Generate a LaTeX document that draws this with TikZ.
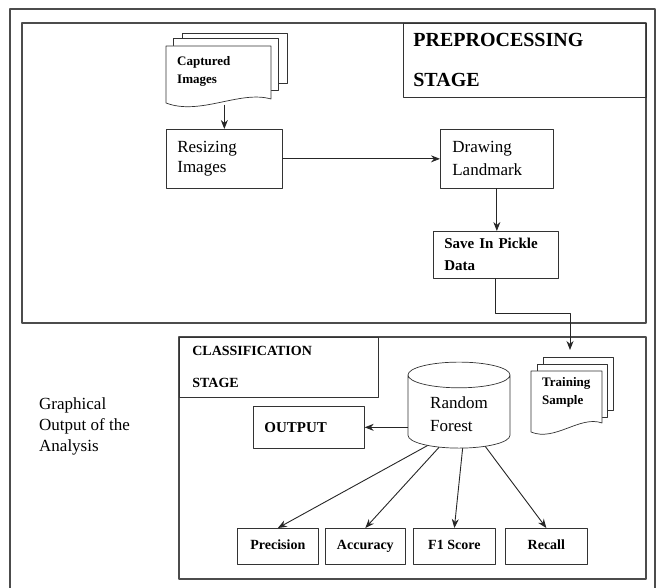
\documentclass[tikz,border=0pt]{standalone}
\usepackage{fontspec}
\setmainfont{Liberation Serif}
\usetikzlibrary{shapes.geometric, arrows.meta}

\tikzset{
	frame/.style={draw=black!70, line width=1.1pt},
	box/.style={draw=black!80, line width=0.7pt, anchor=north west, inner xsep=11pt, inner ysep=0pt, align=left},
	stagebox/.style={box, font=\bfseries},
	metric/.style={draw=black!80, line width=0.7pt, anchor=north west, inner sep=0pt, minimum height=36pt, text height=10pt, text depth=3pt, font=\bfseries\fontsize{14}{16}\selectfont},
	page/.style={draw=black!80, line width=0.7pt, fill=white},
	doctext/.style={anchor=north west, inner xsep=11pt, inner ysep=0pt, align=left, font=\bfseries\fontsize{13}{18}\selectfont},
	link/.style={->, line width=0.9pt, black!85}
}

\begin{document}
\begin{tikzpicture}[x=1pt, y=-1pt, >={Stealth[length=9pt, width=7pt]}, line join=round, line cap=round]
	\useasboundingbox (0,0) rectangle (659,588);
	% outer frame and stage frames
	\draw[frame] (10,588) -- (10,9) -- (655,9) -- (655,588);
	\draw[frame] (22,23) rectangle (646,323);
	\draw[frame] (179,337) rectangle (646,579);

	% preprocessing stage
	\node[stagebox, inner xsep=10pt, text width=223pt, minimum height=74pt, font=\bfseries\fontsize{20}{40}\selectfont] (pre) at (403,23) {PREPROCESSING\\STAGE};

	\draw[page] (182,33) rectangle (287,83);
	\draw[page] (173,38) rectangle (278,90);
	\draw[page] (166,46) -- (271,46) -- (271,99) .. controls (240,90) and (200,116) .. (166,103) -- cycle;
	\node[doctext, text width=83pt, minimum height=50pt] (capt) at (166,46) {Captured\\Images};

	\node[box, text width=94pt, minimum height=59pt, font=\fontsize{17}{20}\selectfont] (resize) at (166,129) {Resizing\\Images};
	\node[box, inner xsep=12pt, text width=89pt, minimum height=59pt, font=\fontsize{17}{23}\selectfont] (landmark) at (440,129) {Drawing\\Landmark};
	\node[box, text width=103pt, minimum height=47pt, font=\bfseries\fontsize{15}{22}\selectfont] (save) at (433,231) {Save In Pickle\\Data};
	\coordinate (tin) at (570,350);

	\draw[link, shorten <=9pt] (capt.south -| resize.north) -- (resize.north);
	\draw[link] (resize.east) -- (landmark.west);
	\draw[link] (landmark.south) -- (landmark.south |- save.north);
	\draw[link] (save.south) -- (save.south |- 0,313) -| (tin);

	% classification stage
	\node[stagebox, inner xsep=13pt, text width=173pt, minimum height=60pt, font=\bfseries\fontsize{14}{32}\selectfont] (cls) at (179,337) {CLASSIFICATION\\STAGE};

	\draw[page] (543,357) rectangle (613,410);
	\draw[page] (537,364) rectangle (607,417);
	\draw[page] (531,371) -- (602,371) -- (602,423) .. controls (580,415) and (555,442) .. (531,432) -- cycle;
	\node[doctext, text width=49pt, minimum height=42pt] (train) at (531,371) {Training\\Sample};

	\node[cylinder, shape border rotate=90, aspect=0.4, draw=black!80, line width=0.7pt, minimum width=102pt, minimum height=86pt, align=left, font=\fontsize{17}{23}\selectfont] (rf) at (459,414) {Random\\Forest};
	\node[box, text width=89pt, minimum height=42pt, font=\bfseries\fontsize{15}{18}\selectfont] (output) at (253,406) {OUTPUT};

	\node[metric, minimum width=81pt] (prec) at (237,528) {Precision};
	\node[metric, minimum width=80pt] (acc) at (325,528) {Accuracy};
	\node[metric, minimum width=82pt] (fscore) at (413,528) {F1 Score};
	\node[metric, minimum width=82pt] (recall) at (505,528) {Recall};

	\draw[link] (rf.west |- output.east) -- (output.east);
	\draw[link] (rf.225) -- (prec.north);
	\draw[link] (rf.239) -- (acc.north);
	\draw[link] (rf.276) -- (fscore.north);
	\draw[link] (rf.309) -- (recall.north);

	\node[anchor=west, inner sep=0pt, align=left, font=\fontsize{17}{21}\selectfont] (graph) at (39,426) {Graphical\\Output of the\\Analysis};
\end{tikzpicture}
\end{document}
